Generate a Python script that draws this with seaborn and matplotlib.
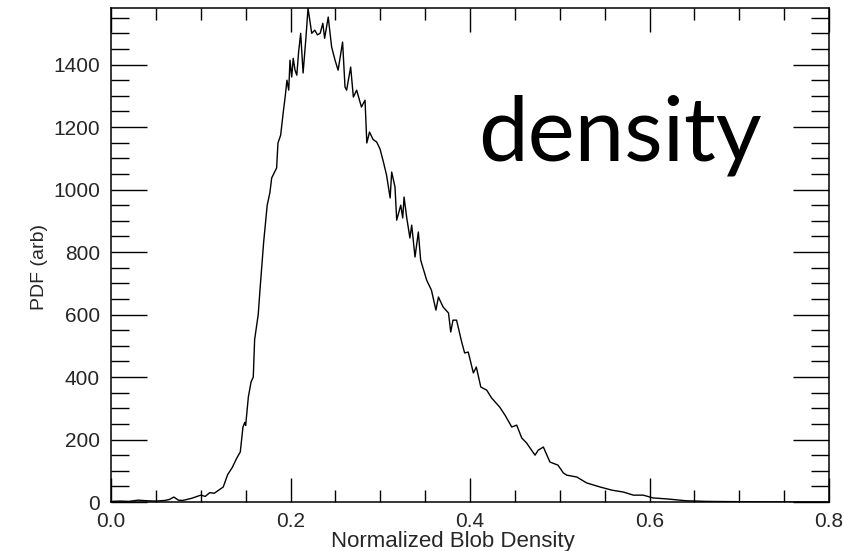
import numpy as np
import pandas as pd
import seaborn as sns
import matplotlib
import matplotlib.pyplot as plt
from matplotlib.ticker import MultipleLocator

matplotlib.use("Agg")

# values
blob_density = [0.0, 0.01, 0.02, 0.03, 0.04, 0.05, 0.06, 0.065, 0.07, 0.075,
                0.08, 0.09, 0.1, 0.105, 0.11, 0.115, 0.12, 0.125, 0.13, 0.135,
                0.14, 0.144, 0.147, 0.149, 0.15, 0.153, 0.156, 0.1585, 0.16, 0.164,
                0.166, 0.17, 0.174, 0.177, 0.179, 0.1845, 0.186, 0.189, 0.192, 0.194,
                0.196, 0.198, 0.1994, 0.2013, 0.203, 0.205, 0.207, 0.209, 0.2113, 0.214,
                0.217, 0.2195, 0.2236, 0.227, 0.23, 0.233, 0.236, 0.238, 0.242, 0.2458,
                0.2496, 0.253, 0.258, 0.2607, 0.2625, 0.267, 0.27, 0.2737, 0.279, 0.283,
                0.285, 0.288, 0.292, 0.296, 0.2997, 0.3035, 0.307, 0.311, 0.3127, 0.3164,
                0.3183, 0.3228, 0.325, 0.3265, 0.3295, 0.333, 0.335, 0.3387, 0.3424, 0.345,
                0.3517, 0.357, 0.362, 0.3648, 0.37, 0.376, 0.3785, 0.381, 0.385, 0.3907,
                0.394, 0.398, 0.4037, 0.407, 0.412, 0.4186, 0.424, 0.433, 0.439, 0.4465,
                0.452, 0.4576, 0.463, 0.4724, 0.476, 0.4817, 0.489, 0.498, 0.504, 0.5077,
                0.519, 0.53, 0.545, 0.558, 0.5707, 0.582, 0.593, 0.604, 0.619, 0.641,
                0.664, 0.7, 0.75, 0.8]
pdf = [2, 3, 2, 6, 4, 3, 5, 8, 16, 6,
       5, 12, 22, 18, 30, 28, 38, 48, 88, 110,
       140, 160, 240, 255, 245, 336, 384, 400, 520, 600,
       680, 830, 950, 990, 1037, 1069, 1149, 1174, 1250, 1296,
       1350, 1318, 1414, 1360, 1420, 1382, 1366, 1440, 1500, 1373,
       1480, 1580, 1500, 1510, 1495, 1500, 1532, 1484, 1552, 1456,
       1414, 1382, 1472, 1328, 1318, 1392, 1296, 1318, 1264, 1286,
       1149, 1184, 1160, 1152, 1130, 1088, 1046, 973, 1056, 1008,
       902, 950, 909, 976, 909, 845, 886, 784, 864, 774,
       710, 678, 614, 656, 624, 605, 544, 582, 582, 512,
       477, 480, 413, 432, 368, 358, 333, 304, 278, 240,
       246, 205, 189, 150, 166, 176, 128, 118, 93, 86,
       80, 61, 48, 38, 32, 22, 22, 13, 10, 4,
       2, 1, 0, 0]

df = pd.DataFrame({"x": blob_density, "pdf": pdf})

sns.set_theme(style="ticks")
plt.rcParams['font.family'] = ['Liberation Sans', 'DejaVu Sans']

fig = plt.figure(figsize=(8.45, 5.51), dpi=100)
ax = fig.add_axes([0.1314, 0.0889, 0.8497, 0.8966])

sns.lineplot(data=df, x="x", y="pdf", color="black", linewidth=1.0, ax=ax)

ax.set_xlim(0, 0.8)
ax.set_ylim(0, 1581)
ax.xaxis.set_major_locator(MultipleLocator(0.2))
ax.xaxis.set_minor_locator(MultipleLocator(0.05))
ax.yaxis.set_major_locator(MultipleLocator(200))
ax.yaxis.set_minor_locator(MultipleLocator(50))
ax.xaxis.set_major_formatter(matplotlib.ticker.FormatStrFormatter('%.1f'))

ax.tick_params(direction="in", top=True, right=True, which="both",
               color="black", width=1.0, labelsize=15)
ax.tick_params(axis="x", which="major", length=17, pad=7)
ax.tick_params(axis="x", which="minor", length=8.5)
ax.tick_params(axis="y", which="major", length=26, pad=8)
ax.tick_params(axis="y", which="minor", length=13)
for s in ax.spines.values():
    s.set_linewidth(1.1)
    s.set_color("black")

ax.set_xlabel("Normalized Blob Density", fontsize=16)
ax.set_ylabel("PDF (arb)", fontsize=14)
ax.xaxis.set_label_coords(0.476, -0.058)
ax.yaxis.set_label_coords(-0.088, 0.475)

ax.text(0.511, 0.692, "density", transform=ax.transAxes, fontsize=64,
        family="Lato", va="baseline", ha="left", color="black")

fig.savefig("out.png", dpi=100)
